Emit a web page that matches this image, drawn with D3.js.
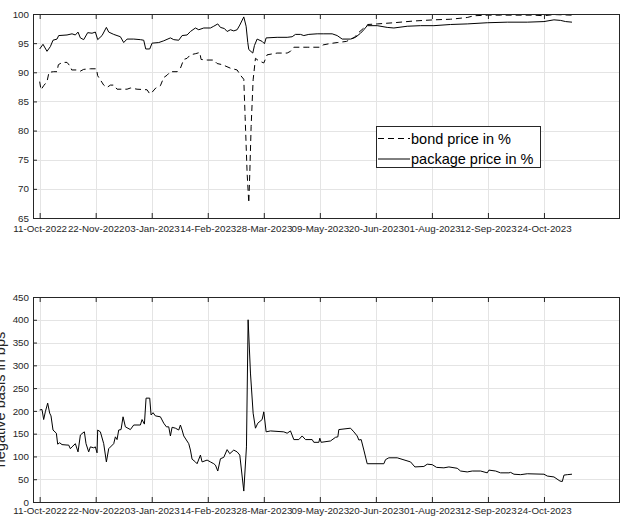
<!DOCTYPE html>
<html>
<head>
<meta charset="utf-8">
<script src="https://cdn.jsdelivr.net/npm/d3@7"></script>
<style>
  body { margin: 0; background: #fff; }
  svg { display: block; }
</style>
</head>
<body>
<svg id="chart" width="621" height="516"></svg>
<script>
// ---- data -------------------------------------------------------------
// Observation dates are stored as calendar-day offsets from the first date.
const startDate = "2022-10-11";
const xLimits = ["2022-10-06", "2023-12-20"];
const tickLabels = ["11-Oct-2022", "22-Nov-2022", "03-Jan-2023", "14-Feb-2023", "28-Mar-2023",
                    "09-May-2023", "20-Jun-2023", "01-Aug-2023", "12-Sep-2023", "24-Oct-2023"];
const priceTicks = [65, 70, 75, 80, 85, 90, 95, 100];
const basisTicks = [0, 50, 100, 150, 200, 250, 300, 350, 400, 450];

const bondDays = [0, 1, 3, 5.5, 7, 10.5, 13, 14, 17, 20.5, 23, 24, 28, 30.5, 33, 38, 42.5, 43.5, 45.5, 48,
  50.5, 53, 55.5, 58, 65.5, 68, 73, 80.5, 82.5, 84, 87, 90.5, 93, 95.5, 98, 103, 105.5, 108, 110.5, 113,
  117, 120, 121, 125.5, 130.5, 133, 137, 143, 148, 150.5, 153, 154, 155.5, 156.75, 157.5, 158.5, 160, 161.75,
  164, 168, 170.5, 178, 185.5, 188, 190.5, 200.5, 210, 212.5, 217, 223, 230, 236, 239, 243, 246,
  253, 265.5, 280.5, 295.5, 308, 320.5, 325.5, 335.5, 345.5, 370.5, 378, 385.5, 399];
const bondValues = [88.4, 87.0, 87.7, 88.4, 90.0, 90.1, 90.1, 91.3, 91.7, 91.7, 91.0, 90.4, 90.4, 90.2, 90.5, 90.6, 90.6, 89.4, 88.7, 87.8,
  87.4, 87.8, 87.8, 87.1, 87.1, 87.3, 87.1, 87.0, 86.3, 86.5, 87.3, 87.7, 89.1, 89.5, 90.1, 90.1, 90.7, 92.2, 92.4, 93.0,
  93.2, 93.4, 92.2, 92.1, 92.1, 91.5, 91.3, 90.7, 90.4, 89.5, 88.8, 82.4, 72.7, 67.6, 72.7, 80.7, 88.7, 92.4,
  92.0, 91.6, 93.0, 93.3, 93.3, 93.6, 94.3, 94.3, 94.3, 94.7, 94.9, 95.1, 95.3, 96.0, 96.8, 97.6, 98.2,
  98.3, 98.5, 98.8, 99.0, 99.1, 99.4, 99.7, 99.8, 99.8, 99.8, 99.7, 99.9, 99.8];

const packageDays = [0, 2.5, 5.5, 8, 10, 13, 14.25, 20.5, 24.25, 26.75, 28.75, 30.5, 33, 36, 39.25, 41.75, 43.5, 46.75, 50, 51.75,
  55.5, 60.5, 63, 65.5, 70.5, 75.5, 78, 79.5, 82.5, 84.25, 89.25, 93, 98, 100.5, 104.25, 106.75, 110.5, 113, 116.75, 119.25,
  123, 128, 130.5, 133.5, 135.5, 138.5, 140.5, 143, 145.5, 148, 150, 153, 154.75, 156, 156.75, 159.75, 161, 163, 166.75, 168.5,
  169.75, 178, 185.5, 189.25, 191.75, 195.5, 198, 201.75, 208, 213, 219.25, 223, 226.75, 233, 236.75, 240.5, 243, 245.5,
  253, 260.5, 265.5, 275.5, 285.5, 295.5, 308, 320.5, 335.5, 350.5, 365.5, 378, 385.5, 390.5, 394.25, 399];
const packageValues = [94.0, 94.8, 93.6, 94.4, 95.5, 95.7, 96.3, 96.4, 96.6, 96.4, 96.9, 95.9, 95.6, 96.8, 96.7, 96.9, 95.6, 96.3, 97.7, 96.9,
  96.5, 96.1, 95.1, 95.7, 95.7, 95.6, 95.5, 94.0, 94.0, 95.0, 95.1, 95.4, 95.9, 95.6, 95.5, 96.3, 96.4, 97.0, 97.6, 97.3,
  97.6, 97.6, 97.9, 98.3, 97.7, 97.5, 97.0, 97.3, 97.1, 97.3, 98.1, 99.5, 97.9, 95.1, 93.9, 93.3, 94.6, 95.7, 95.3, 94.9,
  95.9, 96.0, 96.0, 96.1, 96.5, 96.5, 96.3, 96.5, 96.6, 96.6, 96.6, 96.3, 95.7, 95.7, 96.0, 96.7, 97.3, 98.0,
  98.0, 97.7, 97.6, 97.9, 98.0, 98.0, 98.2, 98.3, 98.5, 98.6, 98.6, 98.7, 99.0, 98.9, 98.7, 98.6];

const basisDays = [0, 1.75, 3, 4.25, 6, 7.5, 8.5, 10, 12.5, 13.5, 15, 16.75, 20.5, 21.75, 23, 24.25, 26.75, 28.75, 30.5, 32.5,
  33.5, 34.75, 36.75, 38, 40.5, 41.75, 43, 43.5, 45.5, 48, 50, 51.75, 55.5, 56.75, 58, 59.25, 61, 62.5, 64.25, 68,
  70.5, 75.5, 76.75, 78.5, 79.75, 82.5, 83.5, 85, 86.75, 90.5, 93, 95, 96.75, 98, 99.25, 101.75, 104.25, 105.5, 106.75, 108,
  111.75, 113, 114.25, 116.75, 118, 120.5, 121.75, 125.5, 128, 130.5, 131.75, 133.5, 135.5, 138, 140.5, 142.5, 145.5, 148, 150, 153,
  155, 156.25, 158, 160, 161.75, 163.5, 166.75, 168, 169.75, 173, 183, 185.5, 188, 190.5, 194.25, 196.75, 199.25, 204.25, 205.5, 209.25,
  210, 211, 218, 221.75, 223.5, 224.25, 233, 235.5, 238, 239.25, 241, 243, 245.5, 258, 259.25, 261.75, 268, 278, 281.25, 288,
  290.5, 294.25, 297.5, 303, 306.75, 313, 315.5, 320.5, 324.25, 330.5, 335.5, 336.75, 341.75, 345.5, 351.75, 353, 355.5, 360.5, 365.5, 378,
  380.5, 385.5, 390, 391.75, 393, 395.5, 399];
const basisValues = [202, 203, 181, 198, 217, 195, 189, 158, 151, 127, 130, 126, 125, 125, 117, 121, 128, 110, 147, 152,
  154, 128, 110, 121, 119, 121, 108, 158, 154, 128, 88, 117, 128, 143, 137, 158, 159, 187, 165, 159,
  169, 169, 181, 171, 228, 228, 191, 196, 189, 187, 173, 165, 165, 145, 164, 162, 158, 169, 158, 145,
  128, 114, 94, 88, 84, 103, 88, 92, 88, 84, 81, 68, 95, 98, 115, 106, 114, 110, 103, 24,
  121, 400, 283, 195, 162, 173, 181, 198, 154, 156, 154, 151, 156, 137, 137, 145, 137, 137, 131, 131,
  140, 131, 134, 142, 143, 159, 162, 154, 145, 136, 137, 114, 84, 84, 93, 97, 97, 88, 77, 78,
  83, 82, 76, 75, 77, 74, 68, 66, 68, 68, 64, 70, 68, 64, 64, 65, 61, 60, 62, 61,
  57, 55, 46, 45, 59, 60, 61];

// ---- helpers ----------------------------------------------------------
const DAY = 864e5;
const parseISO = d3.utcParse("%Y-%m-%d");
const parseTick = d3.utcParse("%d-%b-%Y");
const fmtTick = d3.utcFormat("%d-%b-%Y");
const t0 = parseISO(startDate);
const toDate = d => new Date(t0.getTime() + d * DAY);
const tickDates = tickLabels.map(parseTick);

const FONT = "'Liberation Sans', Arial, Helvetica, sans-serif";
const AXIS_COLOR = "#262626";
const GRID_COLOR = "#e4e4e4";

const svg = d3.select("#chart");
const left = 33, right = 620;

const x = d3.scaleUtc().domain(xLimits.map(parseISO)).range([left, right]);

function drawPanel(top, bottom, yDomain, yTicks, series, id, labelOffset) {
  const y = d3.scaleLinear().domain(yDomain).range([bottom, top]);
  const g = svg.append("g");

  // clip region for the data lines
  svg.append("clipPath").attr("id", id)
    .append("rect").attr("x", left).attr("y", top).attr("width", right - left).attr("height", bottom - top);

  // grid
  g.append("g").selectAll("line").data(tickDates).join("line")
    .attr("x1", d => Math.round(x(d)) + 0.5).attr("x2", d => Math.round(x(d)) + 0.5)
    .attr("y1", top).attr("y2", bottom)
    .attr("stroke", GRID_COLOR).attr("stroke-width", 1);
  g.append("g").selectAll("line").data(yTicks).join("line")
    .attr("x1", left).attr("x2", right)
    .attr("y1", d => Math.round(y(d)) + 0.5).attr("y2", d => Math.round(y(d)) + 0.5)
    .attr("stroke", GRID_COLOR).attr("stroke-width", 1);

  // series
  const line = d3.line().x(d => x(d[0])).y(d => y(d[1]));
  series.forEach(s => {
    const pts = s.days.map((d, i) => [toDate(d), s.values[i]]);
    g.append("path").datum(pts)
      .attr("clip-path", `url(#${id})`)
      .attr("d", line)
      .attr("fill", "none")
      .attr("stroke", "#000")
      .attr("stroke-width", 1)
      .attr("stroke-linejoin", "round")
      .attr("stroke-dasharray", s.dash || null);
  });

  // bottom axis (inward ticks) and matching ticks on the top edge
  const xb = g.append("g").attr("transform", `translate(0,${bottom})`)
    .call(d3.axisBottom(x).tickValues(tickDates).tickFormat(fmtTick).tickSizeInner(-5).tickSizeOuter(0));
  const xt = g.append("g").attr("transform", `translate(0,${top})`)
    .call(d3.axisTop(x).tickValues(tickDates).tickFormat("").tickSizeInner(-5).tickSizeOuter(0));
  const yl = g.append("g").attr("transform", `translate(${left},0)`)
    .call(d3.axisLeft(y).tickValues(yTicks).tickFormat(d3.format("d")).tickSizeInner(-4).tickSizeOuter(0).tickPadding(4));

  [xb, xt, yl].forEach(a => {
    a.select(".domain").remove();
    a.selectAll(".tick line").attr("stroke", AXIS_COLOR);
    a.selectAll("text").attr("fill", AXIS_COLOR).style("font-family", FONT).style("font-size", "9.8px");
  });
  // date labels sit on a fixed baseline below the axis
  xb.selectAll("text").attr("y", labelOffset).attr("dy", 0);

  // box
  g.append("rect").attr("x", left + 0.5).attr("y", top + 0.5)
    .attr("width", right - left - 1).attr("height", bottom - top)
    .attr("fill", "none").attr("stroke", AXIS_COLOR).attr("stroke-width", 1);
  return y;
}

// upper panel: prices
drawPanel(14, 218, [65, 100], priceTicks, [
  { days: bondDays, values: bondValues, dash: "6,4" },
  { days: packageDays, values: packageValues }
], "clipTop", 14);

// lower panel: negative basis
drawPanel(297, 502, [0, 450], basisTicks, [
  { days: basisDays, values: basisValues }
], "clipBottom", 11.5);

svg.append("text")
  .attr("transform", "translate(5,399.5) rotate(-90)")
  .attr("text-anchor", "middle")
  .attr("fill", AXIS_COLOR)
  .style("font-family", FONT).style("font-size", "14.5px")
  .text("negative basis in bps");

// legend
const legendItems = [
  { label: "bond price in %", dash: "6,4" },
  { label: "package price in %", dash: null }
];
const lg = svg.append("g");
lg.append("rect").attr("x", 376.5).attr("y", 126.5).attr("width", 164).attr("height", 41)
  .attr("fill", "#fff").attr("stroke", AXIS_COLOR).attr("stroke-width", 1);
legendItems.forEach((it, i) => {
  const cy = 138.5 + i * 20.5;
  lg.append("line").attr("x1", 378).attr("x2", 410).attr("y1", cy).attr("y2", cy)
    .attr("stroke", "#000").attr("stroke-width", 1).attr("stroke-dasharray", it.dash);
  lg.append("text").attr("x", 411).attr("y", cy).attr("dy", "0.35em")
    .attr("fill", "#000").style("font-family", FONT).style("font-size", "14.5px")
    .text(it.label);
});
</script>
</body>
</html>
